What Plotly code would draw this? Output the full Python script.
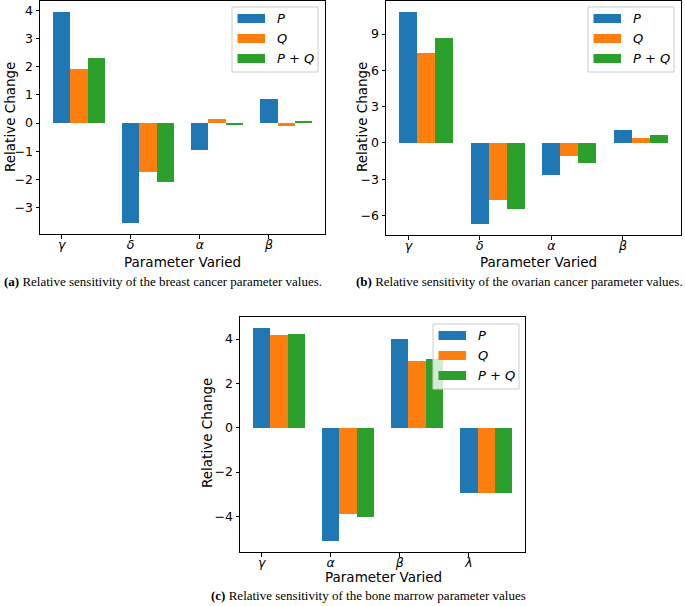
import plotly.graph_objects as go

# values
params_ab = ["γ", "δ", "α", "β"]
params_c = ["γ", "α", "β", "λ"]
series_names = ["P", "Q", "P + Q"]
colors = ["#1f77b4", "#ff7f0e", "#2ca02c"]

a_P = [3.95, -3.56, -0.94, 0.86]
a_Q = [1.92, -1.74, 0.14, -0.12]
a_PQ = [2.32, -2.09, -0.07, 0.07]

b_P = [10.85, -6.73, -2.61, 1.07]
b_Q = [7.45, -4.72, -1.04, 0.44]
b_PQ = [8.65, -5.44, -1.62, 0.66]

c_P = [4.51, -5.12, 3.98, -2.93]
c_Q = [4.20, -3.89, 2.99, -2.96]
c_PQ = [4.24, -4.03, 3.09, -2.96]

ticks_a = [-3, -2, -1, 0, 1, 2, 3, 4]
ticks_b = [-6, -3, 0, 3, 6, 9]
ticks_c = [-4, -2, 0, 2, 4]

captions = [
    "<b>(a)</b> Relative sensitivity of the breast cancer parameter values.",
    "<b>(b)</b> Relative sensitivity of the ovarian cancer parameter values.",
    "<b>(c)</b> Relative sensitivity of the bone marrow parameter values",
]

W, H = 685, 606
BAR_W = 0.25


def px(x):
    return x / W


def py(y):
    return 1 - y / H


def yrange(series):
    vals = [v for s in series for v in s]
    lo, hi = min(vals), max(vals)
    m = 0.05 * (hi - lo)
    return [lo - m, hi + m]


fig = go.Figure()

panels = [
    dict(n="", series=[a_P, a_Q, a_PQ], params=params_ab, ticks=ticks_a,
         box=(40, 325, 1, 234), legend=(232, 7), ytitle=(10, 117), xtitle=(183, 262), cap=(163, 281)),
    dict(n="2", series=[b_P, b_Q, b_PQ], params=params_ab, ticks=ticks_b,
         box=(386, 681, 1, 235), legend=(588, 7), ytitle=(362, 117), xtitle=(538, 262), cap=(519, 281)),
    dict(n="3", series=[c_P, c_Q, c_PQ], params=params_c, ticks=ticks_c,
         box=(240, 525, 317, 552), legend=(433, 324), ytitle=(207, 433), xtitle=(383, 577), cap=(368, 595)),
]

font_main = "DejaVu Sans"
shapes = []
annotations = []


def note(x, y, text, size, family=font_main, **kw):
    d = dict(x=px(x), y=py(y), xref="paper", yref="paper", text=text, showarrow=False,
             xanchor="center", yanchor="middle",
             font=dict(family=family, size=size, color="black"))
    d.update(kw)
    annotations.append(d)


for p in panels:
    xa = "x" + p["n"]
    ya = "y" + p["n"]
    for k, s in enumerate(p["series"]):
        fig.add_trace(go.Bar(
            x=list(range(len(s))), y=s, width=BAR_W, offset=k * BAR_W - BAR_W / 2,
            marker=dict(color=colors[k], line=dict(width=0)),
            name=series_names[k], showlegend=False, xaxis=xa, yaxis=ya,
        ))
    x0, x1, y0, y1 = p["box"]
    axis_common = dict(showline=True, mirror=True, linecolor="black", linewidth=1,
                       ticks="outside", ticklen=3.5, tickwidth=1, tickcolor="black",
                       showgrid=False, zeroline=False,
                       tickfont=dict(family=font_main, size=12.5, color="black"))
    fig.layout["xaxis" + p["n"]] = dict(
        domain=[px(x0), px(x1)], anchor=ya, range=[-0.3125, 3.8125],
        tickvals=list(range(len(p["params"]))), ticklabelstandoff=-5,
        ticktext=["<i>%s</i>" % t for t in p["params"]], **axis_common)
    fig.layout["yaxis" + p["n"]] = dict(
        domain=[py(y1), py(y0)], anchor=xa, range=yrange(p["series"]),
        tickvals=p["ticks"], **axis_common)

    # axis titles
    note(p["ytitle"][0], p["ytitle"][1], "Relative Change", 13.5, textangle=-90)
    note(p["xtitle"][0], p["xtitle"][1], "Parameter Varied", 13.5)

    # matplotlib-style legend
    lx, ly = p["legend"]
    shapes.append(dict(type="rect", xref="paper", yref="paper", layer="above",
                       x0=px(lx), x1=px(lx + 86), y0=py(ly + 65), y1=py(ly),
                       fillcolor="rgba(255,255,255,0.8)", line=dict(color="#cccccc", width=1)))
    for k in range(3):
        cy = ly + 11.5 + 20 * k
        shapes.append(dict(type="rect", xref="paper", yref="paper", layer="above",
                           x0=px(lx + 5.5), x1=px(lx + 33), y0=py(cy + 4.5), y1=py(cy - 4.5),
                           fillcolor=colors[k], line=dict(width=0)))
        note(lx + 43, cy, "<i>%s</i>" % series_names[k], 13, xanchor="left")

for i, p in enumerate(panels):
    note(p["cap"][0], p["cap"][1], captions[i], 13, family="Liberation Serif")

fig.update_layout(
    width=W, height=H, margin=dict(l=0, r=0, t=0, b=0),
    plot_bgcolor="white", paper_bgcolor="white",
    barmode="overlay", bargap=0,
    shapes=shapes, annotations=annotations,
    font=dict(family=font_main),
)

fig.write_html("out.html", config={"displayModeBar": False},
               post_script="document.body.style.margin='0';")
